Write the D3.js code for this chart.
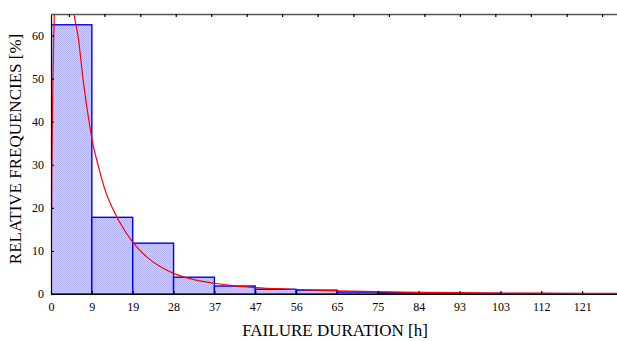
<!DOCTYPE html>
<html>
<head>
<meta charset="utf-8">
<script src="https://cdn.jsdelivr.net/npm/d3@7"></script>
<style>
  html, body { margin: 0; padding: 0; background: #fff; }
  svg { display: block; }
  text { font-family: "Liberation Serif", "Times New Roman", serif; fill: #000; }
</style>
</head>
<body>
<svg id="chart" width="617" height="341"></svg>
<script>
// ---- data ----
const binEdges = [0, 9.333, 18.667, 28, 37.333, 46.667, 56, 65.333, 74.667, 84, 93.333, 102.667, 112, 121.333, 130.667];
const binLabels = ["0", "9", "19", "28", "37", "47", "56", "65", "75", "84", "93", "103", "112", "121"];
const frequencies = [62.5, 17.8, 11.8, 3.9, 1.85, 1.1, 0.9, 0.45, 0.3, 0.2, 0.15, 0.1, 0.1, 0.05];
const yTicks = [0, 10, 20, 30, 40, 50, 60];
const topTicks = [4.1, 12.2, 20.4, 28.5, 36.6, 44.7, 52.8, 60.9, 69.1, 77.2, 85.3, 93.4, 101.5, 109.6, 117.8, 125.9];
const curveHours = [0, 0.1, 0.25, 0.45, 0.7, 1.0, 1.6, 2.5, 3.5, 4.4, 5.26, 6.3, 7.3, 8.4, 9.35, 11.0, 12.4, 14.0, 15.5, 18.7, 22, 25, 28, 32, 37.3, 42, 46.6, 54.6, 65.3, 80, 93, 103, 112, 121, 130];
const curvePct   = [0, 15, 35, 50, 63, 74, 84, 86, 80, 72, 65, 59, 50, 42, 36, 29, 24, 20, 17, 12, 8.5, 6.3, 4.8, 3.5, 2.5, 1.9, 1.5, 1.1, 0.72, 0.42, 0.3, 0.23, 0.19, 0.16, 0.13];

// ---- layout ----
const L = 51, R = 617, T = 14, B = 294;
const svg = d3.select("#chart");
const x = d3.scaleLinear().domain([0, 129.3]).range([L, R]);
const y = d3.scaleLinear().domain([0, 65]).range([B, T]);

const defs = svg.append("defs");
defs.append("clipPath").attr("id", "plotclip")
  .append("rect").attr("x", L).attr("y", T).attr("width", R - L).attr("height", B - T);
const pat = defs.append("pattern").attr("id", "hatch")
  .attr("patternUnits", "userSpaceOnUse").attr("width", 2).attr("height", 2);
pat.append("rect").attr("width", 2).attr("height", 2).attr("fill", "#cacafc");
pat.append("rect").attr("width", 1).attr("height", 1).attr("fill", "#b6b6f6");
pat.append("rect").attr("x", 1).attr("y", 1).attr("width", 1).attr("height", 1).attr("fill", "#b6b6f6");

const plot = svg.append("g").attr("clip-path", "url(#plotclip)");

// bars
plot.selectAll("rect.bar").data(frequencies).join("rect")
  .attr("class", "bar")
  .attr("x", (d, i) => x(binEdges[i]))
  .attr("y", d => y(d))
  .attr("width", (d, i) => x(binEdges[i + 1]) - x(binEdges[i]))
  .attr("height", d => y(0) - y(d))
  .attr("fill", "url(#hatch)")
  .attr("stroke", "#0000ee")
  .attr("stroke-width", 1.4);

// fitted curve
const pts = curveHours.map((h, i) => [h, curvePct[i]]);
plot.append("path")
  .datum(pts)
  .attr("fill", "none")
  .attr("stroke", "#ff0000")
  .attr("stroke-width", 1.2)
  .attr("d", d3.line().x(d => x(d[0])).y(d => y(d[1])).curve(d3.curveMonotoneX));

// axes
const xAxis = d3.axisBottom(x).tickValues(binEdges.slice(0, binLabels.length))
  .tickFormat((d, i) => binLabels[i]).tickSizeInner(-3).tickSizeOuter(0).tickPadding(8);
const gx = svg.append("g").attr("transform", `translate(0,${B})`).call(xAxis);
gx.select(".domain").attr("stroke", "#000").attr("stroke-width", 1.2);
gx.selectAll(".tick line").attr("stroke", "#000").attr("stroke-width", 1.2);
gx.selectAll("text").attr("font-size", 12).attr("font-family", "Liberation Serif").attr("fill", "#222");

const yAxis = d3.axisLeft(y).tickValues(yTicks).tickSizeInner(-3).tickSizeOuter(0).tickPadding(7);
const gy = svg.append("g").attr("transform", `translate(${L},0)`).call(yAxis);
gy.select(".domain").attr("stroke", "#000").attr("stroke-width", 1.2);
gy.selectAll(".tick line").attr("stroke", "#000").attr("stroke-width", 1.2);
gy.selectAll("text").attr("font-size", 12).attr("font-family", "Liberation Serif").attr("fill", "#222");

const topAxis = d3.axisTop(x).tickValues(topTicks).tickSizeInner(-3).tickSizeOuter(0).tickFormat("");
const gt = svg.append("g").attr("transform", `translate(0,${T})`).call(topAxis);
gt.select(".domain").attr("stroke", "#555").attr("stroke-width", 1.5);
gt.selectAll(".tick line").attr("stroke", "#000").attr("stroke-width", 1.2);

// titles
svg.append("text")
  .attr("x", (L + R) / 2 + 1).attr("y", 336)
  .attr("text-anchor", "middle").attr("font-size", 17)
  .text("FAILURE DURATION [h]");
svg.append("text")
  .attr("transform", `translate(21,${(T + B) / 2 - 5}) rotate(-90)`)
  .attr("text-anchor", "middle").attr("font-size", 17)
  .text("RELATIVE FREQUENCIES [%]");
</script>
</body>
</html>
